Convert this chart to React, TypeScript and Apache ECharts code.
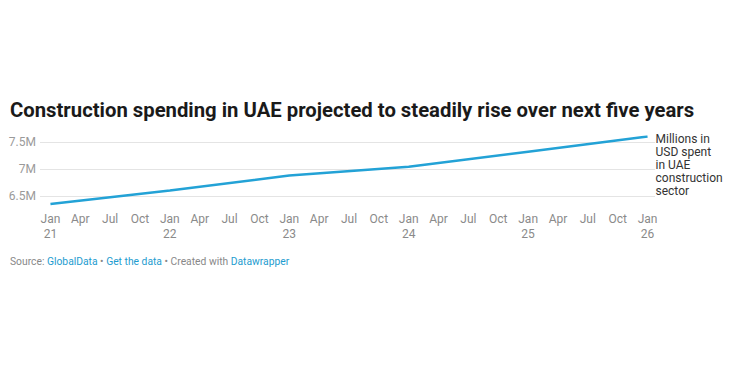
import React, { useEffect, useRef } from "react";
import * as echarts from "echarts";

const quarterLabels = [
  "Jan\n21", "Apr", "Jul", "Oct",
  "Jan\n22", "Apr", "Jul", "Oct",
  "Jan\n23", "Apr", "Jul", "Oct",
  "Jan\n24", "Apr", "Jul", "Oct",
  "Jan\n25", "Apr", "Jul", "Oct",
  "Jan\n26",
];
// quarter index from Jan 2021
const pointQuarters = [0, 4, 8, 12, 16, 20];
const spendingMillions = [6.35, 6.6, 6.88, 7.04, 7.32, 7.6];
const yTickLabels = [6.5, 7, 7.5];

const titleText = "Construction spending in UAE projected to steadily rise over next five years";
const seriesLabel = "Millions in\nUSD spent\nin UAE\nconstruction\nsector";

export default function App() {
  const ref = useRef<HTMLDivElement>(null);
  useEffect(() => {
    document.body.style.margin = "0";
    const chart = echarts.init(ref.current!, null, { renderer: "svg" });
    const font = "Roboto, 'Noto Sans', sans-serif";
    chart.setOption({
      animation: false,
      backgroundColor: "#ffffff",
      textStyle: { fontFamily: font },
      title: {
        text: titleText,
        left: 5,
        top: 95,
        textStyle: { fontSize: 20.3, fontWeight: 700, color: "#1a1a1a", fontFamily: font },
      },
      graphic: [
        {
          type: "text",
          left: 10,
          top: 256,
          style: {
            text: "{g|Source: }{b|GlobalData}{g| • }{b|Get the data}{g| • Created with }{b|Datawrapper}",
            rich: {
              g: { fill: "#888888", fontSize: 10.3, fontFamily: font },
              b: { fill: "#1d9ccf", fontSize: 10.3, fontFamily: font },
            },
          },
        },
      ],
      grid: { left: 40, right: 78, top: 136.6, height: 72.9, containLabel: false },
      xAxis: {
        type: "value",
        min: -0.35,
        max: 20.25,
        axisLine: { show: false },
        axisTick: { show: false },
        splitLine: { show: false },
        axisLabel: {
          customValues: quarterLabels.map((_, i) => i),
          formatter: (v: number) => quarterLabels[Math.round(v)] ?? "",
          color: "#8a8a8a",
          fontSize: 12,
          lineHeight: 15,
          margin: 2,
          fontFamily: font,
        },
      },
      yAxis: {
        type: "value",
        min: 6.25,
        max: 7.6,
        interval: 0.25,
        axisLine: { show: false },
        axisTick: { show: false },
        splitLine: {
          show: true,
          lineStyle: { color: ["rgba(0,0,0,0)", "#e4e4e4"], width: 1 },
        },
        axisLabel: {
          formatter: (v: number) =>
            yTickLabels.some((t) => Math.abs(t - v) < 1e-6) ? `${v}M` : "",
          color: "#9a9a9a",
          fontSize: 12,
          margin: 4,
          fontFamily: font,
        },
      },
      series: [
        {
          type: "line",
          data: pointQuarters.map((q, i) => [q, spendingMillions[i]]),
          showSymbol: false,
          lineStyle: { color: "#23a2d6", width: 2.5 },
          itemStyle: { color: "#23a2d6" },
          endLabel: {
            show: true,
            formatter: seriesLabel,
            color: "#333333",
            fontSize: 12,
            lineHeight: 13,
            align: "left",
            verticalAlign: "top",
            distance: 8,
            offset: [0, -4],
            fontFamily: font,
          },
        },
      ],
    });
    return () => chart.dispose();
  }, []);
  return <div ref={ref} style={{ width: 733, height: 376 }} />;
}
